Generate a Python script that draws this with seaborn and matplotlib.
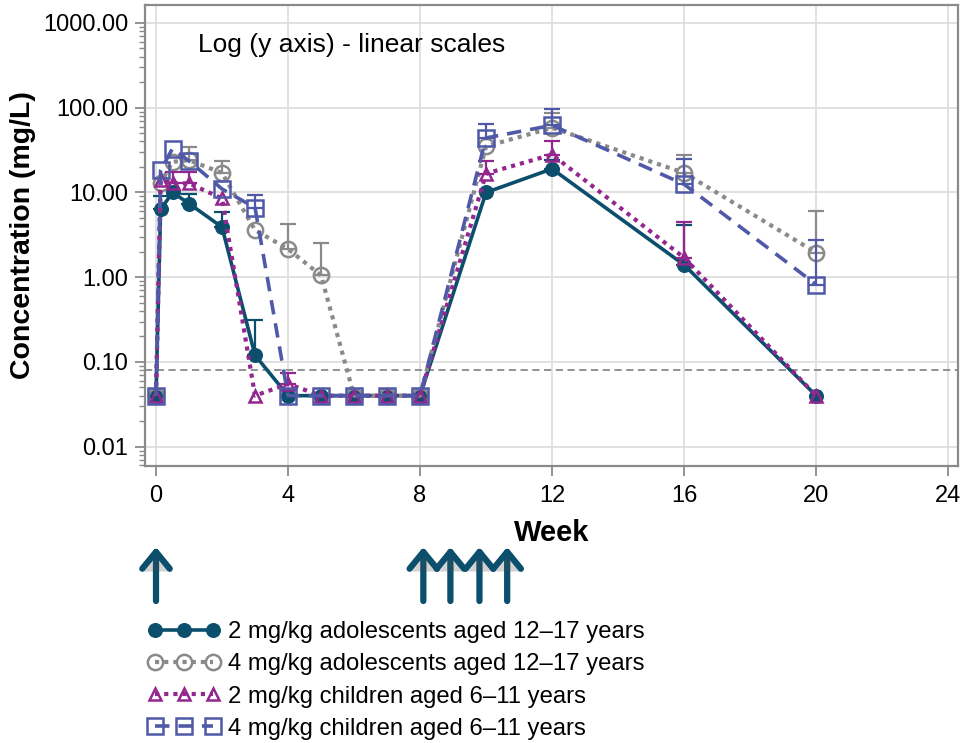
import numpy as np
import pandas as pd
import matplotlib
matplotlib.use("Agg")
import matplotlib.pyplot as plt
import matplotlib.ticker as mticker
import matplotlib.patheffects as pe
import seaborn as sns

# ---------------- data ----------------
weeks = [0, 0.14, 0.5, 1, 2, 3, 4, 5, 6, 7, 8, 10, 12, 16, 20]
nan = np.nan

adol_2mg = [0.04, 6.3, 10.0, 7.4, 3.9, 0.12, 0.04, 0.04, 0.04, 0.04, 0.04, 10.0, 19.0, 1.4, 0.04]
adol_2mg_top = [nan, 9.0, nan, 9.5, 5.9, 0.31, nan, nan, nan, nan, nan, nan, 24.0, 4.1, nan]

adol_4mg = [0.04, 13.0, 23.0, 24.0, 17.0, 3.6, 2.15, 1.05, 0.04, 0.04, 0.04, 35.0, 58.0, 17.0, 1.95]
adol_4mg_top = [nan, nan, nan, 34.0, 23.8, nan, 4.3, 2.5, nan, nan, nan, nan, 86.0, 28.0, 6.1]

child_2mg = [0.04, 14.0, 12.8, 12.8, 8.5, 0.04, 0.055, 0.04, 0.04, 0.04, 0.04, 16.7, 28.0, 1.7, 0.04]
child_2mg_top = [nan, nan, 17.5, 17.5, nan, nan, 0.075, nan, nan, nan, nan, 23.8, 40.0, 4.5, nan]

child_4mg = [0.04, 18.3, 33.0, 23.5, 11.0, 6.6, 0.04, 0.04, 0.04, 0.04, 0.04, 44.0, 62.0, 12.5, 0.82]
child_4mg_top = [nan, nan, nan, nan, nan, 9.3, nan, nan, nan, nan, nan, 64.0, 97.0, 25.0, 2.75]

labels = ["2 mg/kg adolescents aged 12\u201317 years",
          "4 mg/kg adolescents aged 12\u201317 years",
          "2 mg/kg children aged 6\u201311 years",
          "4 mg/kg children aged 6\u201311 years"]

lloq = 0.08
dose_weeks = [0, 8.1, 8.92, 9.8, 10.64]

x_ticks = [0, 4, 8, 12, 16, 20, 24]
y_ticks = [0.01, 0.1, 1, 10, 100, 1000]

# ---------------- style ----------------
sns.set_theme(style="white")
plt.rcParams['font.family'] = ['Liberation Sans', 'DejaVu Sans']
plt.rcParams['text.color'] = 'black'
plt.rcParams['axes.labelcolor'] = 'black'

c_teal = "#0b4f6c"
c_gray = "#8a8a8a"
c_purple = "#93278f"
c_blue = "#4f59a8"

fig = plt.figure(figsize=(9.61, 7.43), dpi=100)
ax = fig.add_axes([0.1509, 0.3728, 0.9969 - 0.1509, 0.9933 - 0.3728])

series = [
    (adol_2mg, adol_2mg_top, c_teal, "o", "-", dict(markerfacecolor=c_teal, markersize=10, linewidth=2.6)),
    (adol_4mg, adol_4mg_top, c_gray, "o", (0, (1, 1.2)), dict(markerfacecolor="none", markersize=11, linewidth=3.0, markeredgewidth=1.8)),
    (child_2mg, child_2mg_top, c_purple, "^", (0, (1, 1.2)), dict(markerfacecolor="none", markersize=9, linewidth=3.0, markeredgewidth=1.8)),
    (child_4mg, child_4mg_top, c_blue, "s", (0, (4, 2.5)), dict(markerfacecolor="none", markersize=11, linewidth=2.6, markeredgewidth=1.8)),
]

for (vals, tops, col, mk, ls, kw), lab in zip(series, labels):
    df = pd.DataFrame({"week": weeks, "conc": vals})
    sns.lineplot(data=df, x="week", y="conc", ax=ax, color=col, marker=mk,
                 linestyle=ls, markeredgecolor=col, sort=False, label=lab,
                 estimator=None, **kw)
    tops_a = np.array(tops, dtype=float)
    vals_a = np.array(vals, dtype=float)
    m = ~np.isnan(tops_a)
    w = np.array(weeks)[m]
    up = tops_a[m] - vals_a[m]
    ax.errorbar(w, vals_a[m], yerr=[np.zeros_like(up), up], fmt="none",
                ecolor=col, elinewidth=1.6, capsize=6, capthick=1.6)

ax.axhline(lloq, color="#8a8a8a", linestyle=(0, (4, 2.5)), linewidth=1.3, zorder=1)

ax.set_yscale("log")
ax.set_xlim(-0.333, 24.3)
ax.set_ylim(10 ** -2.228, 10 ** 3.2125)
ax.set_xticks(x_ticks)
ax.set_xticklabels([str(v) for v in x_ticks])
ax.yaxis.set_major_locator(mticker.FixedLocator(y_ticks))
ax.yaxis.set_major_formatter(mticker.FuncFormatter(lambda v, p: f"{v:.2f}"))
ax.yaxis.set_minor_locator(mticker.LogLocator(base=10, subs=np.arange(2, 10)))
ax.yaxis.set_minor_formatter(mticker.NullFormatter())

ax.grid(True, which="major", color="#dcdcdc", linewidth=1.2)
ax.set_axisbelow(True)
for s in ax.spines.values():
    s.set_color("#8a8a8a")
    s.set_linewidth(1.6)

ax.tick_params(axis="both", which="major", direction="out", length=7, width=1.3,
               color="#8a8a8a", labelsize=17, labelcolor="black", bottom=True, left=True)
ax.tick_params(axis="y", which="minor", direction="out", length=4, width=1.0,
               color="#8a8a8a", left=True)
ax.tick_params(axis="x", pad=7)
ax.tick_params(axis="y", pad=5)

ax.set_xlabel("Week", fontsize=21, fontweight="bold", labelpad=8)
ax.set_ylabel("Concentration (mg/L)", fontsize=20.5, fontweight="bold", labelpad=5)

ax.text(0.065, 0.913, "Log (y axis) - linear scales", transform=ax.transAxes,
        fontsize=19, ha="left", va="center")

# dosing arrows
for dw in dose_weeks:
    ann = ax.annotate("", xy=(dw, 1 - 547 / 743), xytext=(dw, 1 - 601 / 743),
                      xycoords=("data", "figure fraction"),
                      textcoords=("data", "figure fraction"),
                      arrowprops=dict(arrowstyle="->, head_length=0.55, head_width=0.45",
                                      color=c_teal, lw=4.5, mutation_scale=22,
                                      shrinkA=0, shrinkB=0),
                      annotation_clip=False)
    ann.arrow_patch.set_path_effects([pe.SimplePatchShadow(offset=(1.5, -2), alpha=0.25),
                                      pe.Normal()])

ax.get_legend().remove()
h, l = ax.get_legend_handles_labels()
fig.legend(h[:4], l[:4], loc="upper left", bbox_to_anchor=(148 / 961, 1 - 621 / 743),
           frameon=False, fontsize=17.2, numpoints=3, handlelength=3.0,
           handletextpad=0.35, labelspacing=0.43, borderaxespad=0, borderpad=0,
           labelcolor="black")

fig.savefig("out.png", dpi=100)
